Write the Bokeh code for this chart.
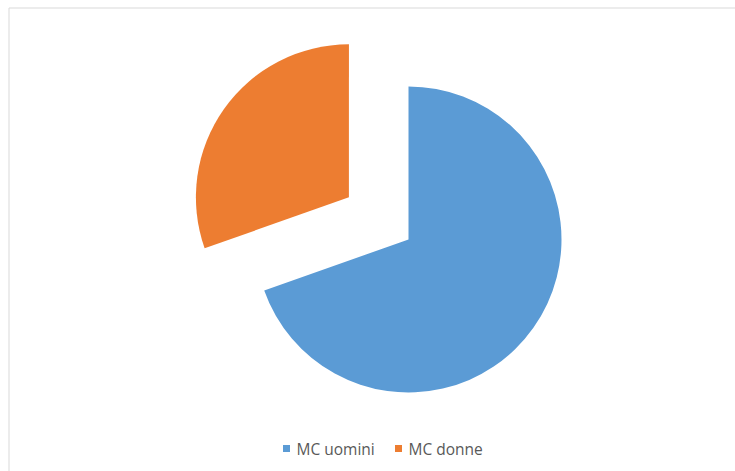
import numpy as np
from bokeh.plotting import figure
from bokeh.models import Range1d
from bokeh.embed import file_html
from bokeh.resources import INLINE
from bokeh.core.properties import value

categories = ["MC uomini", "MC donne"]
shares = [69.6, 30.4]
colors = ["#5B9BD5", "#ED7D31"]
exploded = [False, True]

W, H = 735, 471
p = figure(width=W, height=H, output_backend="svg", toolbar_location=None,
           x_range=Range1d(0, W), y_range=Range1d(0, H), min_border=0)
p.axis.visible = False
p.grid.visible = False
p.outline_line_color = None
p.background_fill_color = "white"
p.border_fill_color = "white"

# chart area border
p.line(x=[8.5, 8.5, W + 5], y=[-5, H - 7.5, H - 7.5], line_color="#D9D9D9", line_width=1)

cx, cy, r = 408, H - 239, 153
explode_dist = 73

total = sum(shares)
start = np.pi / 2
for cat, s, col, ex in zip(categories, shares, colors, exploded):
    sweep = 2 * np.pi * s / total
    a_end = start
    a_start = start - sweep  # clockwise from top
    mid = (a_start + a_end) / 2
    dx = explode_dist * np.cos(mid) if ex else 0
    dy = explode_dist * np.sin(mid) if ex else 0
    p.wedge(x=[cx + dx], y=[cy + dy], radius=r, start_angle=[a_start], end_angle=[a_end],
            fill_color=col, line_color=None)
    start = a_start

# legend
lx = [286, 398]
ly = H - 448
for cat, col, x0 in zip(categories, colors, lx):
    p.scatter(x=[x0], y=[ly], marker="square", size=7, fill_color=col, line_color=None)
    p.text(x=[x0 + 10], y=[ly], text=[cat], text_font=value("Open Sans"), text_font_size="15.5px",
           text_color="#595959", text_baseline="middle", text_align="left")

open("out.html", "w").write(file_html(p, INLINE))
